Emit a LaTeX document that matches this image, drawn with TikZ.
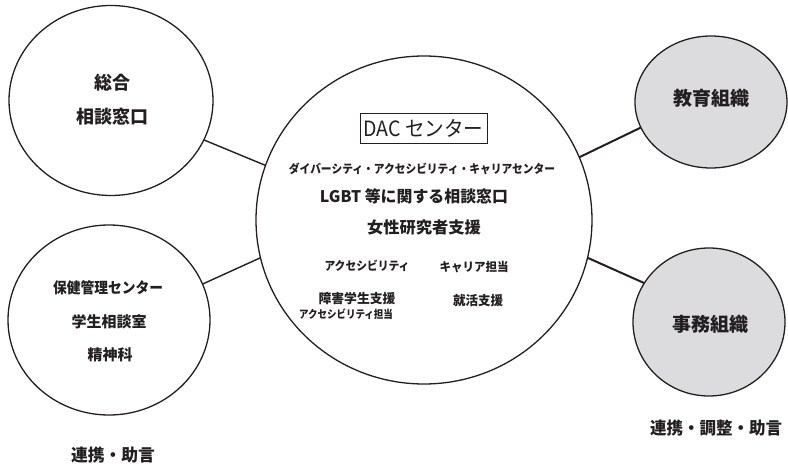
\documentclass[tikz,border=0pt]{standalone}
\usepackage{fontspec}
\setmainfont{Noto Sans CJK JP}
\usetikzlibrary{shapes.geometric}
\definecolor{ink}{HTML}{231F20}
\definecolor{orgfill}{HTML}{DCDCDE}
\newcommand{\fitw}[2]{\resizebox{#1}{\height}{#2}}
\begin{document}
\begin{tikzpicture}[x=1pt,y=-1pt,
  circ/.style={ellipse,draw=ink,line width=1.3pt,inner sep=0pt,outer sep=0pt},
  org/.style={circ,fill=orgfill},
  link/.style={draw=ink,line width=1.4pt},
  linkr/.style={draw=ink,line width=2pt},
  lbl/.style={text=ink,inner sep=0pt,anchor=center,font=\bfseries}]
\useasboundingbox (0,0) rectangle (788,468);
% circles
\node[circ,minimum width=336pt,minimum height=328pt] (c) at (424,220) {};
\node[circ,minimum width=204pt,minimum height=190pt] (lt) at (111,100.5) {};
\node[circ,minimum width=202pt,minimum height=190pt] (lb) at (109,320) {};
\node[org,minimum width=152pt,minimum height=132pt] (rt) at (711,102) {};
\node[org,minimum width=152pt,minimum height=148pt] (rb) at (709,322) {};
% connectors
\draw[link] (c.161) -- (lt.-23);
\draw[link] (c.193.5) -- (lb.21.8);
\draw[linkr] (c.22.9) -- (rt.200.6);
\draw[linkr] (c.-13.7) -- (rb.149.4);
% left top
\node[lbl,font=\bfseries\fontsize{18}{18}\selectfont] (lt1) at (112,83) {総合};
\node[lbl,font=\bfseries\fontsize{18}{18}\selectfont] (lt2) at (112,117) {相談窓口};
% left bottom
\node[lbl,font=\bfseries\fontsize{15}{15}\selectfont] (lb1) at (108,288) {\fitw{110pt}{保健管理センター}};
\node[lbl,font=\bfseries\fontsize{15}{15}\selectfont] (lb2) at (109,322) {学生相談室};
\node[lbl,font=\bfseries\fontsize{15}{15}\selectfont] (lb3) at (110,355) {精神科};
\node[lbl,font=\bfseries\fontsize{17}{17}\selectfont] (lb4) at (113,455) {\fitw{84pt}{連携・助言}};
% right
\node[lbl,font=\bfseries\fontsize{19}{19}\selectfont] (rt1) at (711,98) {教育組織};
\node[lbl,font=\bfseries\fontsize{19}{19}\selectfont] (rb1) at (710,324) {事務組織};
\node[lbl,font=\bfseries\fontsize{17}{17}\selectfont] (rb2) at (716,428) {\fitw{132pt}{連携・調整・助言}};
% center
\node[draw=ink,line width=0.9pt,text=ink,minimum width=127pt,minimum height=30pt,inner sep=0pt,font=\fontsize{21}{21}\selectfont] (dac) at (423.5,128) {\fitw{120pt}{DAC センター}};
\node[lbl,font=\bfseries\fontsize{12}{12}\selectfont] (c1) at (422,169) {\fitw{266pt}{ダイバーシティ・アクセシビリティ・キャリアセンター}};
\node[lbl,font=\bfseries\fontsize{16}{16}\selectfont] (c2) at (414,196) {\fitw{188pt}{LGBT 等に関する相談窓口}};
\node[lbl,font=\bfseries\fontsize{16}{16}\selectfont] (c3) at (424,227) {\fitw{114pt}{女性研究者支援}};
\node[lbl,font=\bfseries\fontsize{12}{12}\selectfont] (c4) at (367,266) {\fitw{85pt}{アクセシビリティ}};
\node[lbl,font=\bfseries\fontsize{12}{12}\selectfont] (c5) at (474,267) {\fitw{69pt}{キャリア担当}};
\node[lbl,font=\bfseries\fontsize{13}{13}\selectfont] (c6) at (357,299) {\fitw{77pt}{障害学生支援}};
\node[lbl,font=\bfseries\fontsize{13}{13}\selectfont] (c7) at (478,301) {\fitw{50pt}{就活支援}};
\node[lbl,font=\bfseries\fontsize{11}{11}\selectfont] (c8) at (346,314) {\fitw{94pt}{アクセシビリティ担当}};
\end{tikzpicture}
\end{document}
